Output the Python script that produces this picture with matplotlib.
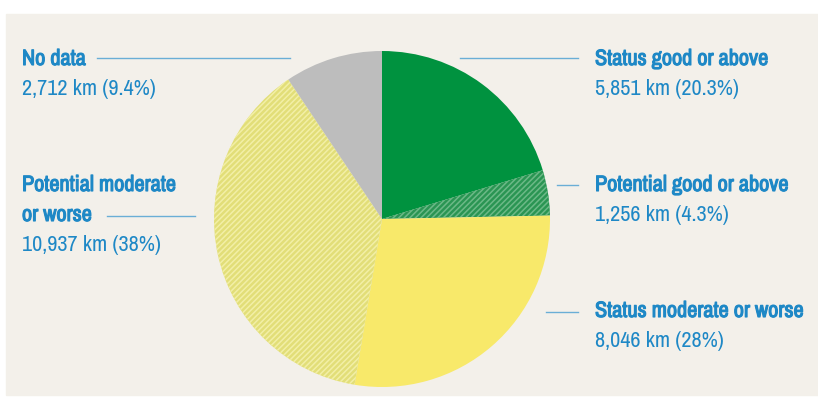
import matplotlib.pyplot as plt
from matplotlib.patches import Rectangle
from matplotlib.lines import Line2D
from matplotlib import font_manager
import matplotlib.patheffects as pe

# - Data

categories = ['Status good or above', 'Potential good or above',
              'Status moderate or worse', 'Potential moderate or worse', 'No data']
lengths_km = [5851, 1256, 8046, 10937, 2712]
shares = ['20.3%', '4.3%', '28%', '38%', '9.4%']

face_colors = ['#00923f', '#2a9553', '#f8e96a', '#e2de78', '#bdbdbd']
hatch_colors = ['#00923f', '#6cb987', '#f8e96a', '#f2efa6', '#bdbdbd']
hatches = [None, '//////', None, '//////', None]

BLUE = '#1e88c6'
LINE = '#6aaed6'
W, H = 818, 403

# - Fonts: look for a narrow family, note whether it has a bold face
fonts = font_manager.fontManager.ttflist
narrow = sorted({f.name for f in fonts if 'Narrow' in f.name or 'Condensed' in f.name})
family = narrow[0] if narrow else 'DejaVu Sans'
has_bold = any(f.name == family and f.weight in ('bold', 700, 'heavy', 800) for f in fonts)
plt.rcParams['font.family'] = [family, 'DejaVu Sans']
plt.rcParams['hatch.linewidth'] = 1.1

fig = plt.figure(figsize=(W / 100, H / 100), dpi=100)
fig.patch.set_facecolor('white')

# beige panel
fig.patches.append(Rectangle((6 / W, 1 - 395 / H), 1, (395 - 14) / H,
                             transform=fig.transFigure, color='#f3f0ea', zorder=-5))

# - Pie
cx, cy, r = 382, 219, 168
ax = fig.add_axes([(cx - r) / W, 1 - (cy + r) / H, 2 * r / W, 2 * r / H])
wedges, _ = ax.pie(lengths_km, startangle=90, counterclock=False, radius=1,
                   colors=face_colors, wedgeprops=dict(linewidth=0))
ax.set_xlim(-1, 1)
ax.set_ylim(-1, 1)
ax.axis('off')
for w, hc, h in zip(wedges, hatch_colors, hatches):
    if h:
        w.set_edgecolor(hc)
        w.set_linewidth(0)
        w.set_hatch(h)


def px(x, y):
    return x / W, 1 - y / H


FS = 16
bold_kw = dict(fontweight='bold')
if not has_bold:
    bold_kw = dict(path_effects=[pe.withStroke(linewidth=0.8, foreground=BLUE)])


def label(x, y, lines, value):
    for i, t in enumerate(lines):
        fig.text(*px(x, y + 30 * i), t, color=BLUE, fontsize=FS,
                 va='center', ha='left', **bold_kw)
    fig.text(*px(x, y + 30 * len(lines)), value, color=BLUE, fontsize=FS,
             va='center', ha='left')


def leader(x0, x1, y):
    fig.add_artist(Line2D([x0 / W, x1 / W], [1 - y / H, 1 - y / H],
                          transform=fig.transFigure, color=LINE, linewidth=1))


vals = [f'{v:,} km ({s})' for v, s in zip(lengths_km, shares)]

label(595, 59, [categories[0]], vals[0])
leader(460, 578, 58)
label(595, 185, [categories[1]], vals[1])
leader(557, 578, 185)
label(595, 311, [categories[2]], vals[2])
leader(546, 578, 312)
label(22, 185, ['Potential moderate', 'or worse'], vals[3])
leader(107, 195, 216)
label(22, 59, [categories[4]], vals[4])
leader(97, 290, 58)

fig.savefig('out.png', dpi=100)
